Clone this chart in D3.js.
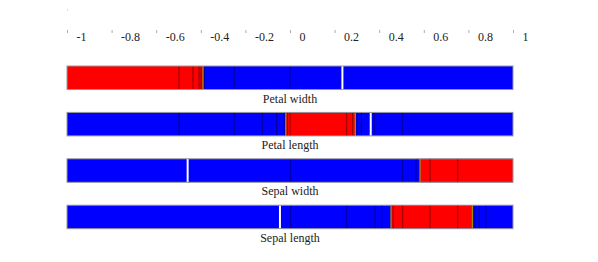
<!DOCTYPE html>
<html>
<head>
<meta charset="utf-8">
<script src="https://cdn.jsdelivr.net/npm/d3@7"></script>
<style>
  body { margin: 0; background: #fff; }
  svg { display: block; }
  text { font-family: "Liberation Serif", serif; font-size: 12px; fill: #222; }
</style>
</head>
<body>
<svg id="chart" width="598" height="262"></svg>
<script>
// ---- data ----
const features = ["Petal width", "Petal length", "Sepal width", "Sepal length"];
const tickValues = [-1, -0.8, -0.6, -0.4, -0.2, 0, 0.2, 0.4, 0.6, 0.8, 1];
const tickLabels = ["-1", "-0.8", "-0.6", "-0.4", "-0.2", "0", "0.2", "0.4", "0.6", "0.8", "1"];
const redStart = [-1, -0.019, 0.583, 0.453];
const redEnd = [-0.39, 0.293, 1, 0.818];
const darkCuts = [
  [-0.498, -0.435, -0.408, -0.399, -0.384, -0.25, 0.0],
  [-0.498, -0.25, -0.124, -0.06, -0.026, -0.012, 0.0, 0.254, 0.281, 0.30, 0.32, 0.378, 0.504],
  [0.003, 0.505, 0.565, 0.628, 0.752],
  [0.003, 0.254, 0.381, 0.411, 0.463, 0.505, 0.628, 0.752, 0.83, 0.848, 0.878]
];
const whiteCuts = [[0.235], [0.362], [-0.459], [-0.045]];

// ---- layout ----
const svg = d3.select("#chart");
const x = d3.scaleLinear().domain([-1, 1]).range([67, 513]);
const y = d3.scaleBand().domain(features).range([66, 228.7]).paddingInner(0.4935).paddingOuter(0);
const barH = y.bandwidth();

// small mark at top-left
svg.append("rect").attr("x", x(-1)).attr("y", 9.5).attr("width", 1).attr("height", 1).attr("fill", "#bbb");

// axis
const axis = d3.axisBottom(x).tickValues(tickValues).tickSize(3)
  .tickFormat((d, i) => tickLabels[i]);
const ax = svg.append("g").attr("transform", "translate(0,30)").call(axis);
ax.select(".domain").remove();
ax.selectAll(".tick line").attr("stroke", "#aaa");
ax.selectAll(".tick text").attr("x", 9).attr("y", 0).attr("dy", "10.5px")
  .attr("text-anchor", "start")
  .style("font-family", "Liberation Serif, serif").style("font-size", "12px").attr("fill", "#222");

// bars
features.forEach((f, i) => {
  const g = svg.append("g");
  const y0 = y(f);
  g.append("rect").attr("x", x(-1)).attr("y", y0).attr("width", x(1) - x(-1)).attr("height", barH)
    .attr("fill", "#0000ff");
  g.append("rect").attr("x", x(redStart[i])).attr("y", y0)
    .attr("width", x(redEnd[i]) - x(redStart[i])).attr("height", barH).attr("fill", "#ff0000");
  darkCuts[i].forEach(v => {
    g.append("line").attr("x1", x(v)).attr("x2", x(v)).attr("y1", y0).attr("y2", y0 + barH)
      .attr("stroke", "#000").attr("stroke-opacity", 0.35).attr("stroke-width", 1.3);
  });
  [redStart[i], redEnd[i]].filter(v => v > -1 && v < 1).forEach(v => {
    g.append("line").attr("x1", x(v)).attr("x2", x(v)).attr("y1", y0).attr("y2", y0 + barH)
      .attr("stroke", "#9a8a10").attr("stroke-width", 1.3);
  });
  whiteCuts[i].forEach(v => {
    g.append("line").attr("x1", x(v)).attr("x2", x(v)).attr("y1", y0).attr("y2", y0 + barH)
      .attr("stroke", "#fff").attr("stroke-width", 2);
  });
  g.append("rect").attr("x", x(-1)).attr("y", y0).attr("width", x(1) - x(-1)).attr("height", barH)
    .attr("fill", "none").attr("stroke", "#999").attr("stroke-width", 1);
  g.append("text").attr("x", x(0)).attr("y", y0 + barH + 13)
    .attr("text-anchor", "middle").text(f);
});
</script>
</body>
</html>
